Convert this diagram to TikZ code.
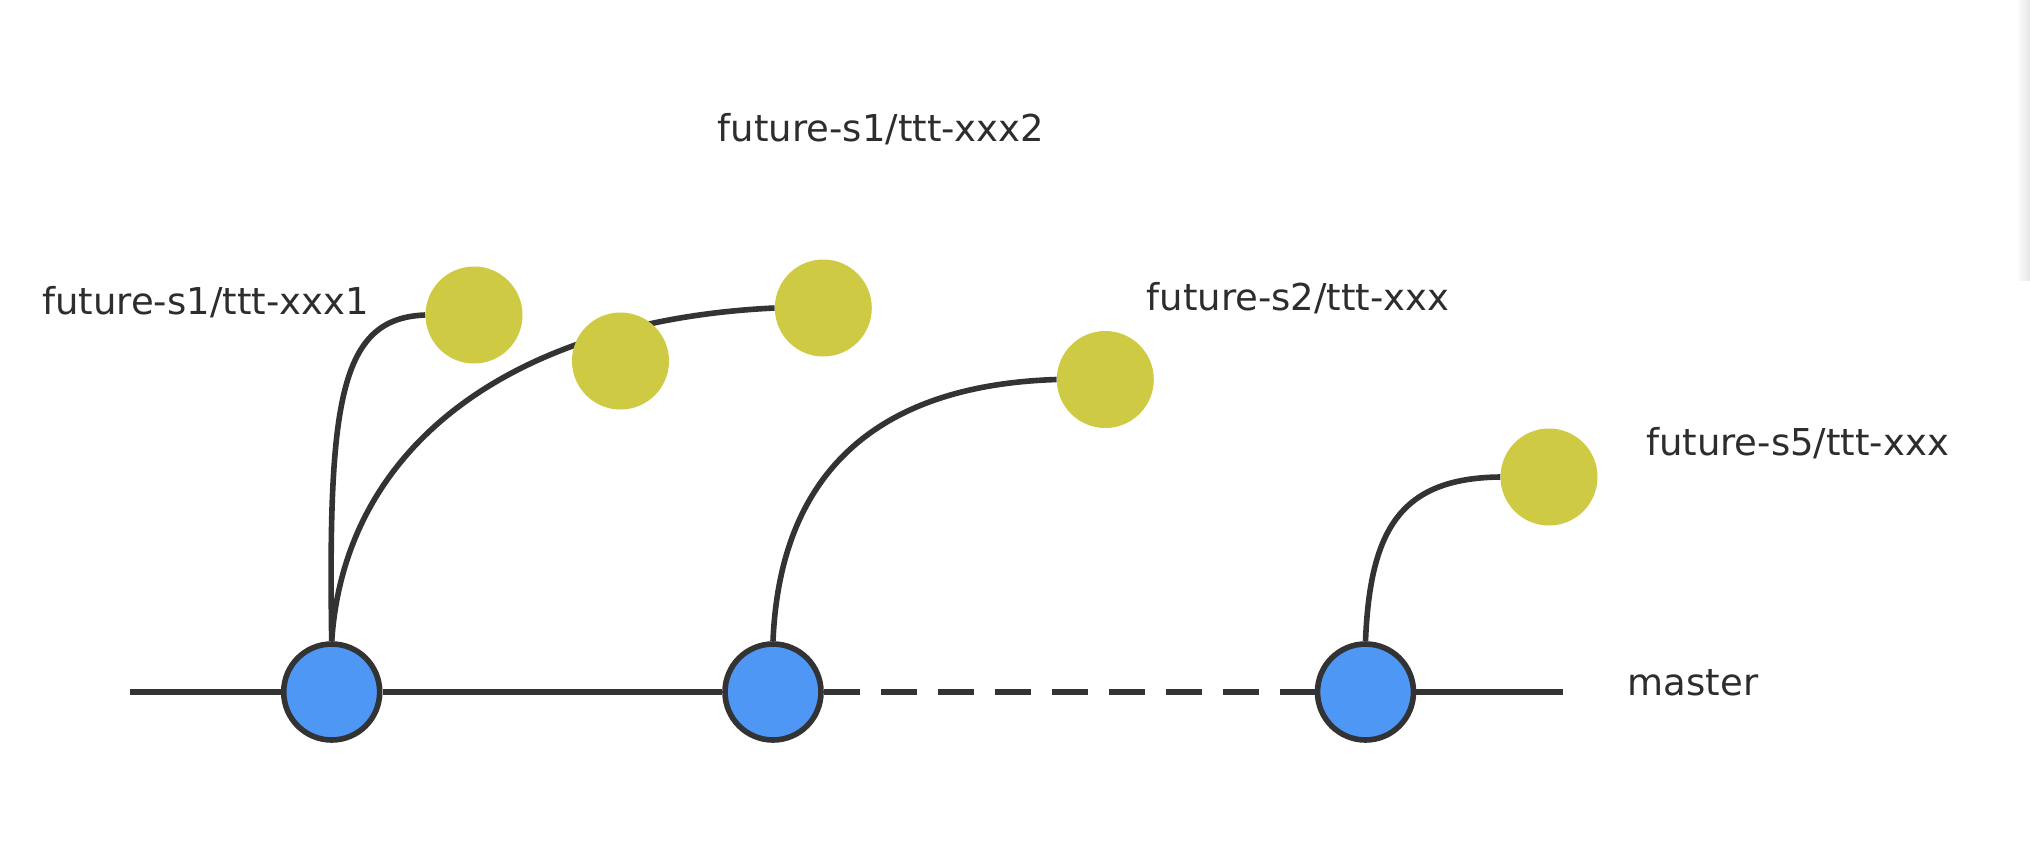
\documentclass[tikz,border=0pt]{standalone}
\usepackage{fontspec}
\setmainfont{DejaVu Sans}
\usetikzlibrary{backgrounds}
\definecolor{commitblue}{RGB}{78,151,245}
\definecolor{branchyellow}{RGB}{207,202,67}
\definecolor{linegray}{RGB}{51,51,51}
\definecolor{labelgray}{RGB}{45,45,45}
\begin{document}
\begin{tikzpicture}[x=1pt,y=-1pt,
  commit/.style={circle,draw=linegray,line width=5.6pt,fill=commitblue,minimum size=96pt,inner sep=0pt},
  branchtip/.style={circle,fill=branchyellow,minimum size=97pt,inner sep=0pt},
  wire/.style={draw=linegray,line width=5.6pt},
  dashwire/.style={wire,dash pattern=on 36pt off 21pt},
  lbl/.style={font=\fontsize{37}{44}\selectfont,text=labelgray,anchor=base,inner sep=0pt}]
\useasboundingbox (0,0) rectangle (2030,844);
\shade[left color=white,right color=black!10] (2016,0) rectangle (2030,280);

% commits on master
\node[commit] (b1) at (331.7,692) {};
\node[commit] (b2) at (773,692) {};
\node[commit] (b3) at (1365.5,692) {};
\coordinate (mstart) at (129.5,692);
\coordinate (mend) at (1563,692);

% branch tips
\node[branchtip] (y1) at (474,315) {};
\node[branchtip] (y2) at (620.5,361) {};
\node[branchtip] (y3) at (823.3,308) {};
\node[branchtip] (y4) at (1105.3,379.5) {};
\node[branchtip] (y5) at (1549,477) {};

% connectors behind nodes
\begin{scope}[on background layer]
\draw[wire] (mstart) -- (b1.west);
\draw[wire] (b1.east) -- (b2.west);
\draw[dashwire] (b2.east) -- (b3.west);
\draw[wire] (b3.east) -- (mend);
\draw[wire] (b1.north) .. controls (328,400) and (340,318) .. (y1.west);
\draw[wire] (b1.north) .. controls (345,440) and (520,320) .. (y3.west);
\draw[wire] (b2.north) .. controls (780,470) and (880,385) .. (y4.west);
\draw[wire] (b3.north) .. controls (1370,530) and (1400,478) .. (y5.west);
\end{scope}

% labels
\node[lbl] (t1) at (205.5,314) {future-s1/ttt-xxx1};
\node[lbl] (t2) at (881,141.7) {future-s1/ttt-xxx2};
\node[lbl] (t3) at (1298,310.7) {future-s2/ttt-xxx};
\node[lbl] (t4) at (1797.5,455) {future-s5/ttt-xxx};
\node[lbl] (t5) at (1693,695) {master};
\end{tikzpicture}
\end{document}
